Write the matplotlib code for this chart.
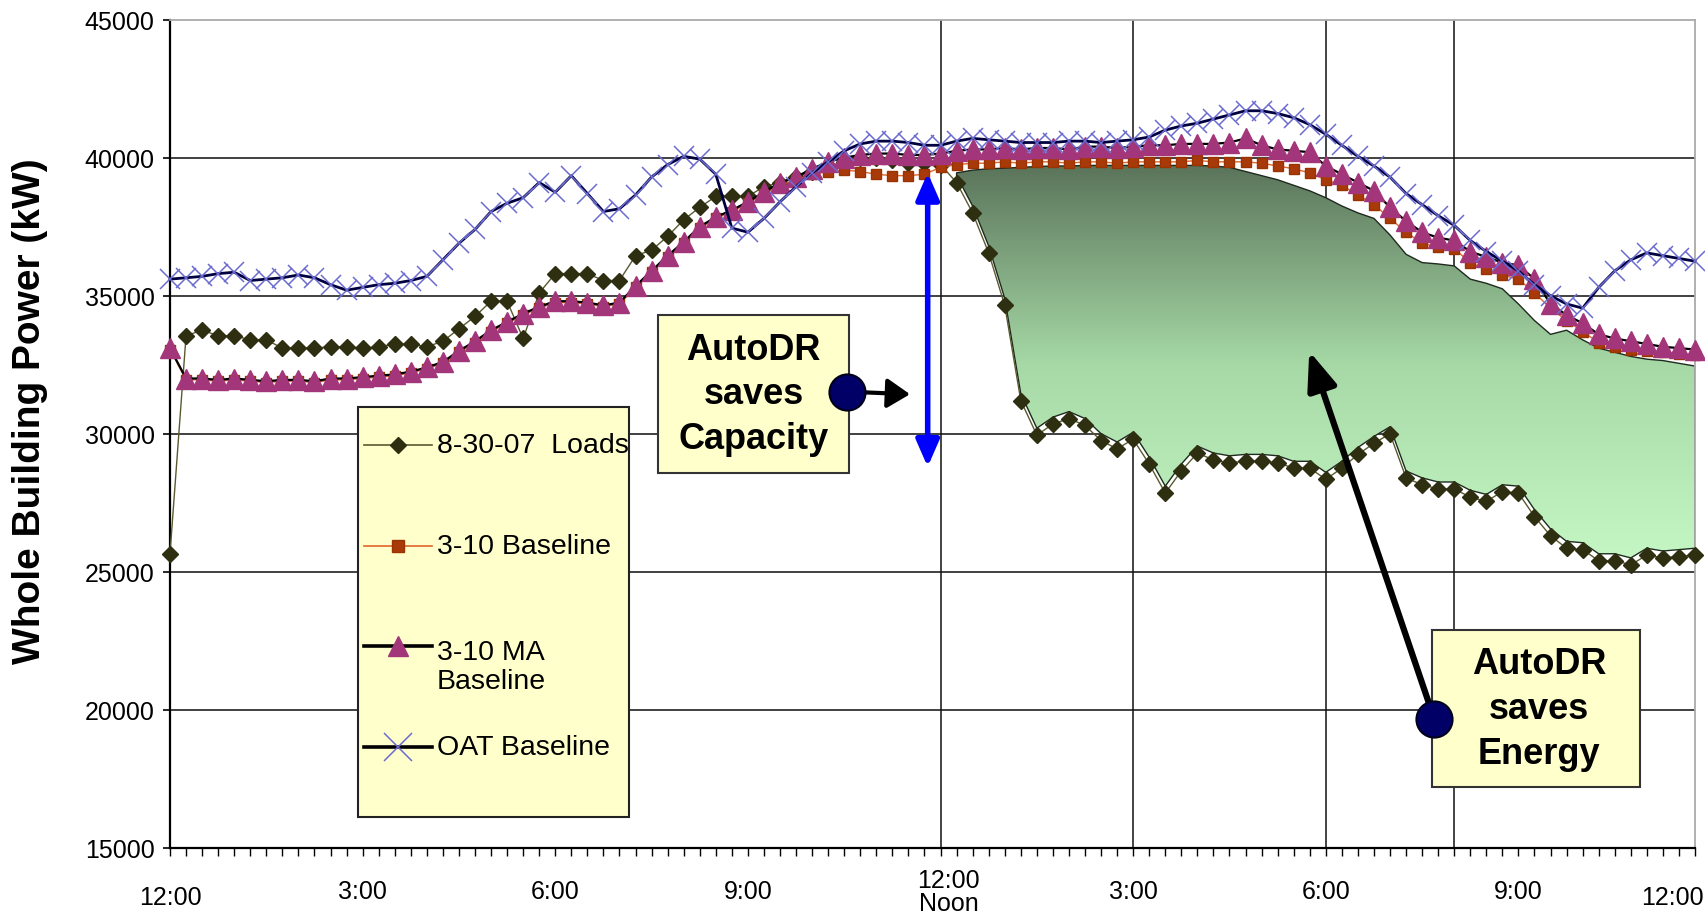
import numpy as np
import matplotlib
matplotlib.use("Agg")
import matplotlib.pyplot as plt
from matplotlib import font_manager
from matplotlib.colors import LinearSegmentedColormap
from matplotlib.lines import Line2D
from matplotlib.patches import Rectangle


# Whole building power (kW), one reading every 15 minutes from midnight (96 readings)
loads_8_30_07 = [
    25650, 33550, 33750, 33550, 33550, 33400, 33400, 33100, 33100, 33100,
    33150, 33150, 33100, 33150, 33250, 33250, 33150, 33350, 33800, 34250,
    34800, 34800, 33450, 35100, 35800, 35800, 35800, 35550, 35550, 36450,
    36650, 37150, 37750, 38200, 38600, 38600, 38600, 38950, 39100, 39300,
    39500, 39700, 39850, 40000, 40000, 39900, 39800, 39800, 39750, 39100,
    38000, 36550, 34650, 31200, 29950, 30350, 30550, 30300, 29750, 29450,
    29800, 28900, 27850, 28650, 29300, 29050, 28950, 29000, 29000, 28950,
    28750, 28750, 28350, 28750, 29250, 29650, 30000, 28400, 28150, 28000,
    28000, 27700, 27550, 27900, 27850, 27000, 26300, 25850, 25800, 25400,
    25400, 25250, 25600, 25500, 25550, 25600,
]
baseline_3_10 = [
    33050, 31950, 31950, 31900, 31950, 31900, 31850, 31900, 31900, 31850,
    31950, 31950, 32000, 32050, 32100, 32200, 32350, 32550, 32950, 33300,
    33700, 34000, 34300, 34550, 34750, 34750, 34700, 34600, 34700, 35300,
    35850, 36400, 36900, 37450, 37800, 38050, 38350, 38700, 39000, 39200,
    39400, 39500, 39550, 39500, 39400, 39350, 39350, 39400, 39650, 39750,
    39800, 39800, 39850, 39800, 39850, 39850, 39800, 39850, 39850, 39800,
    39850, 39850, 39850, 39850, 39900, 39850, 39850, 39850, 39800, 39700,
    39600, 39450, 39200, 39000, 38650, 38300, 37800, 37300, 36900, 36750,
    36700, 36200, 35950, 35750, 35600, 35100, 34550, 34100, 33700, 33300,
    33150, 33050, 33000, 32950, 32900, 32850,
]
ma_baseline_3_10 = [
    33100, 32000, 32000, 31950, 32000, 31950, 31900, 31950, 31950, 31900,
    32000, 32000, 32050, 32100, 32150, 32250, 32400, 32600, 33000, 33350,
    33750, 34050, 34350, 34600, 34800, 34800, 34750, 34650, 34750, 35350,
    35900, 36450, 36950, 37500, 37850, 38100, 38400, 38750, 39100, 39300,
    39600, 39850, 40000, 40100, 40150, 40150, 40100, 40100, 40150, 40250,
    40300, 40300, 40350, 40300, 40350, 40350, 40300, 40400, 40400, 40350,
    40400, 40450, 40450, 40500, 40500, 40500, 40550, 40700, 40450, 40300,
    40250, 40200, 39700, 39400, 39100, 38800, 38200, 37700, 37300, 37100,
    37000, 36600, 36400, 36200, 36100, 35600, 34700, 34300, 34000, 33600,
    33450, 33350, 33250, 33150, 33100, 33050,
]
oat_baseline = [
    35600, 35650, 35700, 35800, 35850, 35550, 35600, 35650, 35750, 35650,
    35400, 35200, 35300, 35400, 35450, 35550, 35700, 36300, 36900, 37400,
    38050, 38350, 38550, 39100, 38750, 39350, 38700, 38050, 38150, 38650,
    39300, 39750, 40050, 39950, 39400, 37450, 37300, 37800, 38400, 38950,
    39450, 39850, 40250, 40500, 40600, 40600, 40550, 40450, 40450, 40600,
    40700, 40650, 40600, 40550, 40550, 40550, 40600, 40600, 40550, 40600,
    40650, 40750, 41000, 41150, 41250, 41400, 41550, 41700, 41700, 41600,
    41450, 41200, 40850, 40450, 40050, 39700, 39300, 38700, 38300, 37900,
    37550, 37000, 36600, 36250, 35900, 35400, 35000, 34700, 34550, 35300,
    35900, 36300, 36550, 36450, 36350, 36250,
]

# upper edge of the shaded "saves energy" area, 12:15 pm to 11:45 pm
savings_start = 49
savings_top = [
    39450, 39550, 39600, 39620, 39650, 39680, 39700, 39700, 39720, 39720,
    39720, 39720, 39720, 39720, 39720, 39720, 39700, 39650, 39500, 39350,
    39200, 39000, 38800, 38550, 38250, 38000, 37800, 37200, 36500, 36200,
    36150, 36080, 35600, 35450, 35250, 34700, 34100, 33600, 33750, 33400,
    33100, 32950, 32800, 32700, 32650, 32550, 32450,
]

x_label_pos = [0, 12, 24, 36, 48.5, 60, 72, 84, 93.6]
x_labels = ['12:00', '3:00', '6:00', '9:00', '12:00\nNoon', '3:00', '6:00', '9:00', '12:00']
y_ticks = [15000, 20000, 25000, 30000, 35000, 40000, 45000]
event_lines = [48, 60, 72, 80]   # noon, 3 pm, 6 pm, 8 pm

legend_labels = ['8-30-07  Loads', '3-10 Baseline', '3-10 MA\nBaseline', 'OAT Baseline']


installed = {f.name for f in font_manager.fontManager.ttflist}
narrow = 'Liberation Sans Narrow' if 'Liberation Sans Narrow' in installed else 'Liberation Sans'
plt.rcParams['font.family'] = ['Liberation Sans', 'DejaVu Sans']

fig = plt.figure(figsize=(17.06, 9.2), dpi=100)
ax = fig.add_axes([170 / 1706, 71.3 / 920, 1525 / 1706, 828 / 920])

n = len(loads_8_30_07)
x = np.arange(n)

# grid / frame
for v in y_ticks[1:-1]:
    ax.axhline(v, color='#333333', lw=1.3, zorder=1)
for t in event_lines:
    ax.axvline(t, color='#111111', lw=1.1, zorder=1)

# shaded energy savings with vertical green gradient
xs = x[savings_start:]
lower = np.array(loads_8_30_07[savings_start:]) + 250
upper = np.array(savings_top)
area = ax.fill_between(xs, lower, upper, facecolor='none', edgecolor='#1f2a1f',
                       lw=1.0, zorder=2.2)
gradient = np.linspace(0, 1, 256).reshape(-1, 1)
greens = LinearSegmentedColormap.from_list('saved', ['#c6f8c6', '#a6d9a6', '#5a735a'])
img = ax.imshow(gradient, cmap=greens, origin='lower', aspect='auto',
                extent=[savings_start, n - 1, 25200, 39800], zorder=2.1)
img.set_clip_path(area.get_paths()[0], transform=ax.transData)

# series styles (shared with the legend)
styles = [
    dict(color='#5a5a30', lw=1.0, marker='D', ms=8.5, mfc='#2e2e10', mec='#2e2e10'),
    dict(color='#e0662a', lw=1.0, marker='s', ms=7.5, mfc='#a83a0a', mec='#993300'),
    dict(color='black', lw=1.6, marker='^', ms=14, mfc='#a3367a', mec='#a3367a'),
    dict(color='#000040', lw=2.0, marker='x', ms=14, mec='#6c6cd0', mew=1.1),
]
series = [loads_8_30_07, baseline_3_10, ma_baseline_3_10, oat_baseline]
for k, (vals, st) in enumerate(zip(series, styles)):
    ax.plot(x, vals, clip_on=False, zorder=3 + 0.1 * k, **st)

ax.set_xlim(0, n - 1)
ax.set_ylim(15000, 45000)

# axes look
for side in ['top', 'right']:
    ax.spines[side].set_color('#aaaaaa')
    ax.spines[side].set_linewidth(1.3)
for side in ['left', 'bottom']:
    ax.spines[side].set_color('black')
    ax.spines[side].set_linewidth(1.6)
ax.set_yticks(y_ticks)
ax.set_yticklabels([str(v) for v in y_ticks], fontsize=18)
ax.tick_params(axis='y', length=5, width=1.2, pad=6)
ax.set_xticks([])
ax.set_xticks(x, minor=True)
ax.tick_params(axis='x', which='minor', length=6, width=1.0, direction='out')

label_drop = [0.060, 0.052, 0.052, 0.052, 0.053, 0.052, 0.052, 0.052, 0.060]
for pos, lab, d in zip(x_label_pos, x_labels, label_drop):
    ax.text(pos, -d, lab, transform=ax.get_xaxis_transform(), ha='center', va='center',
            fontsize=18, linespacing=0.95)

ax.set_ylabel('Whole Building Power (kW)', fontsize=28, fontweight='bold')
ax.yaxis.set_label_coords(-0.080, 0.5286)

# "AutoDR saves Capacity"
ax.add_patch(Rectangle((30.4, 28565), 11.9, 5745, facecolor='#ffffcc',
                       edgecolor='#333333', lw=1.5, zorder=6))
ax.text(36.35, 31440, 'AutoDR\nsaves\nCapacity', ha='center', va='center',
        fontsize=26, fontweight='bold', linespacing=1.36, zorder=7)
ax.annotate('', xy=(47.2, 28800), xytext=(47.2, 39450),
            arrowprops=dict(arrowstyle='<|-|>,head_length=0.8,head_width=0.35',
                            color='#0000ff', lw=4, mutation_scale=20,
                            shrinkA=0, shrinkB=0), zorder=6)
ax.annotate('', xy=(46.1, 31430), xytext=(42.3, 31520),
            arrowprops=dict(arrowstyle='-|>,head_length=0.7,head_width=0.45',
                            color='black', lw=3, mutation_scale=20,
                            shrinkA=0, shrinkB=0), zorder=7)
ax.plot(42.2, 31520, 'o', ms=26, mfc='#000066', mec='#00001a', mew=1.5, zorder=8)

# "AutoDR saves Energy"
ax.add_patch(Rectangle((78.6, 17210), 13.0, 5660, facecolor='#ffffcc',
                       edgecolor='#333333', lw=1.5, zorder=6))
ax.text(85.3, 20040, 'AutoDR\nsaves\nEnergy', ha='center', va='center',
        fontsize=26, fontweight='bold', linespacing=1.36, zorder=7)
ax.annotate('', xy=(70.97, 32990), xytext=(78.75, 19680),
            arrowprops=dict(arrowstyle='-|>,head_length=1.15,head_width=0.45',
                            color='black', lw=4.5, mutation_scale=20,
                            shrinkA=0, shrinkB=0), zorder=7)
ax.plot(78.75, 19680, 'o', ms=26, mfc='#000066', mec='#00001a', mew=1.5, zorder=8)

# legend box
ax.add_patch(Rectangle((0.1233, 0.0371), 0.1777, 0.4951, transform=ax.transAxes,
                       facecolor='#ffffcc', edgecolor='#222222', lw=1.5, zorder=8))
rows = [0.4864, 0.3644, 0.2436, 0.1212]
legend_sizes = [8, 8, 15, 20]
legend_widths = [1.2, 1.2, 2.6, 2.6]
for lab, y, st, ms, lw in zip(legend_labels, rows, styles, legend_sizes, legend_widths):
    st = dict(st)
    line_color = st.pop('color')
    st.pop('lw')
    st['ms'] = ms
    ax.add_line(Line2D([0.1272, 0.1718], [y, y], transform=ax.transAxes,
                       color='black' if lw > 2 else line_color, lw=lw, zorder=9))
    ax.add_line(Line2D([0.1495], [y], transform=ax.transAxes, lw=0, zorder=9.5, **st))
    ty = y if '\n' not in lab else y - 0.0247
    ax.text(0.1751, ty, lab, transform=ax.transAxes, ha='left', va='center',
            fontsize=20.5, family=[narrow, 'DejaVu Sans'], linespacing=1.15, zorder=10)

fig.savefig('out.png', dpi=100)
